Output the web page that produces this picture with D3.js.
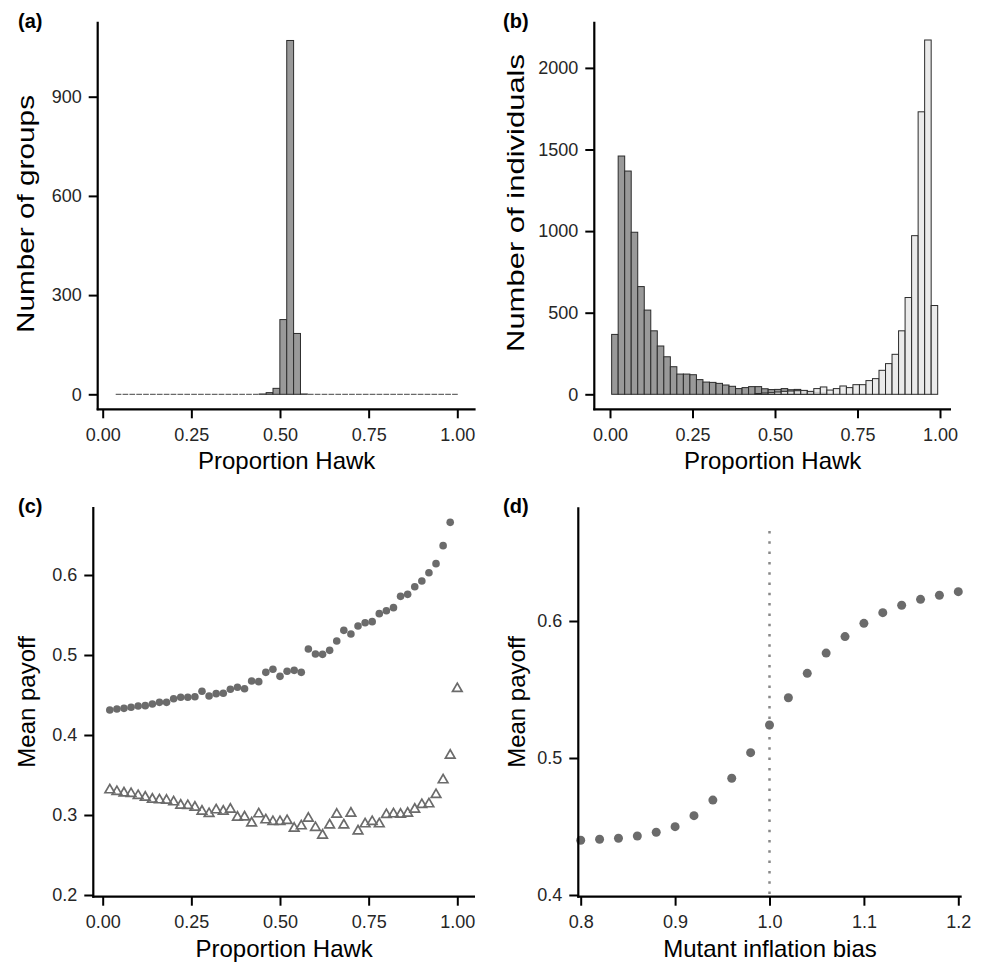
<!DOCTYPE html>
<html>
<head>
<meta charset="utf-8">
<script src="https://cdn.jsdelivr.net/npm/d3@7/dist/d3.min.js"></script>
<style>
  html, body { margin: 0; padding: 0; background: #fff; }
  svg { display: block; font-family: "Liberation Sans", Arial, Helvetica, sans-serif; }
</style>
</head>
<body>
<svg id="chart" width="985" height="966"></svg>
<script>
// ---------------- DATA ----------------
// (a) histogram of group proportion hawk: 50 bins
const groupBinStart = 0.035;
const groupBinWidth = 0.01936;
const groupCounts = [0,0,0,0,0,0,0,0,0,0, 0,0,0,0,0,0,0,0,0,0,
                     0,1,5,18,226,1070,184,1,0,0, 0,0,0,0,0,0,0,0,0,0,
                     0,0,0,0,0,0,0,0,0,0];

// (b) histogram of individuals: 50 bins, two overlapping series
const indivBinStart = 0.005;
const indivBinWidth = 0.01976;
const indivDark = [367,1460,1368,993,660,516,389,296,230,169,
                   124,124,120,90,75,73,67,57,49,35,
                   41,47,47,34,29,30,35,28,30,22,
                   15,12,8,0,0,0,0,0,0,0,
                   0,0,0,0,0,0,0,0,0,0];
const indivLight = [0,0,0,0,0,0,0,0,0,0,
                    0,0,0,0,0,0,0,0,0,0,
                    0,0,5,8,10,14,18,20,22,24,
                    18,35,45,26,35,51,41,59,59,84,
                    96,147,188,245,389,593,972,1731,2171,544];

// (c) mean payoff vs proportion hawk
const circleX = [0.02,0.04,0.06,0.08,0.10,0.12,0.14,0.16,0.18,0.20,
                 0.22,0.24,0.26,0.28,0.30,0.32,0.34,0.36,0.38,0.40,
                 0.42,0.44,0.46,0.48,0.50,0.52,0.54,0.56,0.58,0.60,
                 0.62,0.64,0.66,0.68,0.70,0.72,0.74,0.76,0.78,0.80,
                 0.82,0.84,0.86,0.88,0.90,0.92,0.94,0.96,0.98];
const circleY = [0.4313,0.4325,0.4333,0.4346,0.4363,0.4367,0.4388,0.4408,0.4408,0.4454,
                 0.4471,0.4471,0.4479,0.4546,0.4488,0.4517,0.4521,0.4571,0.4596,0.4579,
                 0.4675,0.4667,0.4783,0.4821,0.4733,0.4796,0.4808,0.4783,0.5075,0.5013,
                 0.5008,0.5058,0.5175,0.5308,0.5263,0.5363,0.5404,0.5417,0.5517,0.5554,
                 0.5592,0.5733,0.5758,0.5854,0.5925,0.6029,0.6142,0.6367,0.6658];
const triX = [0.02,0.04,0.06,0.08,0.10,0.12,0.14,0.16,0.18,0.20,
              0.22,0.24,0.26,0.28,0.30,0.32,0.34,0.36,0.38,0.40,
              0.42,0.44,0.46,0.48,0.50,0.52,0.54,0.56,0.58,0.60,
              0.62,0.64,0.66,0.68,0.70,0.72,0.74,0.76,0.78,0.80,
              0.82,0.84,0.86,0.88,0.90,0.92,0.94,0.96,0.98,1.00];
const triY = [0.3313,0.3292,0.3275,0.3267,0.3242,0.3221,0.3196,0.3188,0.3183,0.3163,
              0.3121,0.3117,0.3096,0.3046,0.3017,0.3063,0.3046,0.3071,0.2971,0.2975,
              0.2900,0.3013,0.2938,0.2917,0.2917,0.2929,0.2833,0.2863,0.2958,0.2842,
              0.2746,0.2875,0.3008,0.2875,0.3021,0.2800,0.2888,0.2917,0.2888,0.3004,
              0.3013,0.3008,0.3021,0.3071,0.3129,0.3138,0.3254,0.3438,0.3746,0.4579];

// (d) mean payoff vs mutant inflation bias
const biasX = [0.80,0.82,0.84,0.86,0.88,0.90,0.92,0.94,0.96,0.98,
               1.00,1.02,1.04,1.06,1.08,1.10,1.12,1.14,1.16,1.18,1.20];
const biasY = [0.4400,0.4407,0.4414,0.4431,0.4458,0.4499,0.4579,0.4693,0.4852,0.5039,
               0.5241,0.5440,0.5618,0.5766,0.5886,0.5983,0.6061,0.6115,0.6158,0.6188,0.6214];
const vlineX = 1.0;
const vlineTop = 0.667;

// tick values / labels
const propTicks = [0, 0.25, 0.5, 0.75, 1.0];
const groupTicks = [0, 300, 600, 900];
const indivTicks = [0, 500, 1000, 1500, 2000];
const payoffTicksC = [0.2, 0.3, 0.4, 0.5, 0.6];
const payoffTicksD = [0.4, 0.5, 0.6];
const biasTicks = [0.8, 0.9, 1.0, 1.1, 1.2];

// ---------------- DRAW ----------------
const svg = d3.select("#chart");
const TICK_FONT = 18, TITLE_FONT = 24;
const darkFill = "#999999", lightFill = "#e6e6e6", barStroke = "#2b2b2b";
const ptColor = "#6b6b6b";

function axes(p) {
  const g = svg.append("g");
  const gx = g.append("g").attr("transform", `translate(0,${p.bottom})`)
    .call(d3.axisBottom(p.x).tickValues(p.xTicks).tickFormat(p.xFmt).tickSize(9).tickPadding(10));
  const gy = g.append("g").attr("transform", `translate(${p.left},0)`)
    .call(d3.axisLeft(p.y).tickValues(p.yTicks).tickFormat(p.yFmt).tickSize(9).tickPadding(7));
  [gx, gy].forEach(a => {
    a.select(".domain").remove();
    a.selectAll(".tick line").attr("stroke", "#000").attr("stroke-width", 2);
    a.selectAll(".tick text").attr("fill", "#262626").style("font-size", TICK_FONT + "px")
      .style("font-family", '"Liberation Sans", Arial, sans-serif');
  });
  g.append("line").attr("x1", p.left).attr("x2", p.left).attr("y1", p.top).attr("y2", p.bottom + 1)
    .attr("stroke", "#000").attr("stroke-width", 2.2);
  g.append("line").attr("x1", p.left - 1).attr("x2", p.right).attr("y1", p.bottom).attr("y2", p.bottom)
    .attr("stroke", "#000").attr("stroke-width", 2.2);
  g.append("text").attr("x", (p.left + p.right) / 2).attr("y", p.bottom + 60)
    .attr("text-anchor", "middle").style("font-size", TITLE_FONT + "px").attr("fill", "#000").text(p.xTitle);
  const yt = g.append("text")
    .attr("transform", `translate(${p.yTitleX},${p.yTitleY !== undefined ? p.yTitleY : (p.top + p.bottom) / 2}) rotate(-90)`)
    .attr("text-anchor", "middle").style("font-size", TITLE_FONT + "px").attr("fill", "#000").text(p.yTitle);
  if (p.yTitleLen) yt.attr("textLength", p.yTitleLen).attr("lengthAdjust", "spacingAndGlyphs");
  svg.append("text").attr("x", p.labelX).attr("y", p.labelY).style("font-size", "20px")
    .style("font-weight", "bold").attr("fill", "#000").text(p.label);
}

// ----- Panel (a)
{
  const x = d3.scaleLinear().domain([0, 1]).range([102.7, 457.3]);
  const y = d3.scaleLinear().domain([0, 900]).range([394.3, 96.7]);
  const bins = groupCounts.map((c, i) => ({ x0: groupBinStart + i * groupBinWidth, x1: groupBinStart + (i + 1) * groupBinWidth, c }));
  const g = svg.append("g");
  g.selectAll("rect").data(bins.filter(d => d.c > 0)).join("rect")
    .attr("x", d => x(d.x0)).attr("width", d => x(d.x1) - x(d.x0))
    .attr("y", d => y(d.c)).attr("height", d => y(0) - y(d.c))
    .attr("fill", darkFill).attr("stroke", barStroke).attr("stroke-width", 1);
  g.selectAll("line.zero").data(bins.filter(d => d.c === 0)).join("line").attr("class", "zero")
    .attr("x1", d => x(d.x0) + 0.6).attr("x2", d => x(d.x1) - 0.6)
    .attr("y1", y(0)).attr("y2", y(0)).attr("stroke", "#444").attr("stroke-width", 1);
  axes({ x, y, left: 97.7, right: 475.6, top: 21.7, bottom: 409.3,
    xTicks: propTicks, yTicks: groupTicks, xFmt: d3.format(".2f"), yFmt: d3.format("d"),
    xTitle: "Proportion Hawk", yTitle: "Number of groups", yTitleLen: 238, yTitleY: 214,
    label: "(a)", labelX: 18, labelY: 28, yTitleX: 34 });
}

// ----- Panel (b)
{
  const x = d3.scaleLinear().domain([0, 1]).range([610, 940]);
  const y = d3.scaleLinear().domain([0, 2000]).range([394.3, 67.9]);
  const mk = arr => arr.map((c, i) => ({ x0: indivBinStart + i * indivBinWidth, x1: indivBinStart + (i + 1) * indivBinWidth, c }));
  const g = svg.append("g");
  g.append("g").selectAll("rect").data(mk(indivDark).filter(d => d.c > 0)).join("rect")
    .attr("x", d => x(d.x0)).attr("width", d => x(d.x1) - x(d.x0))
    .attr("y", d => y(d.c)).attr("height", d => y(0) - y(d.c))
    .attr("fill", darkFill).attr("stroke", barStroke).attr("stroke-width", 1);
  g.append("g").selectAll("rect").data(mk(indivLight).filter(d => d.c > 0)).join("rect")
    .attr("x", d => x(d.x0)).attr("width", d => x(d.x1) - x(d.x0))
    .attr("y", d => y(d.c)).attr("height", d => y(0) - y(d.c))
    .attr("fill", lightFill).attr("fill-opacity", 0.85).attr("stroke", barStroke).attr("stroke-width", 1);
  axes({ x, y, left: 594.3, right: 951, top: 21.7, bottom: 409.3,
    xTicks: propTicks, yTicks: indivTicks, xFmt: d3.format(".2f"), yFmt: d3.format("d"),
    xTitle: "Proportion Hawk", yTitle: "Number of individuals", yTitleLen: 298, yTitleY: 203,
    label: "(b)", labelX: 503, labelY: 28, yTitleX: 524 });
}

// ----- Panel (c)
{
  const x = d3.scaleLinear().domain([0, 1]).range([102.7, 457.3]);
  const y = d3.scaleLinear().domain([0.2, 0.6]).range([895, 575]);
  const g = svg.append("g");
  g.selectAll("circle").data(circleX.map((v, i) => [v, circleY[i]])).join("circle")
    .attr("cx", d => x(d[0])).attr("cy", d => y(d[1])).attr("r", 3.8).attr("fill", ptColor);
  const tri = d3.symbol(d3.symbolTriangle, 40);
  g.selectAll("path.tri").data(triX.map((v, i) => [v, triY[i]])).join("path").attr("class", "tri")
    .attr("d", tri).attr("transform", d => `translate(${x(d[0])},${y(d[1])})`)
    .attr("fill", "none").attr("stroke", ptColor).attr("stroke-width", 1.7);
  axes({ x, y, left: 93.3, right: 475, top: 507, bottom: 896.7,
    xTicks: propTicks, yTicks: payoffTicksC, xFmt: d3.format(".2f"), yFmt: d3.format(".1f"),
    xTitle: "Proportion Hawk", yTitle: "Mean payoff", label: "(c)", labelX: 18, labelY: 513, yTitleX: 35 });
}

// ----- Panel (d)
{
  const x = d3.scaleLinear().domain([0.8, 1.2]).range([580.7, 958.3]);
  const y = d3.scaleLinear().domain([0.4, 0.6]).range([895, 621]);
  const g = svg.append("g");
  g.append("line").attr("x1", x(vlineX)).attr("x2", x(vlineX)).attr("y1", 894).attr("y2", y(vlineTop))
    .attr("stroke", "#888").attr("stroke-width", 2.5).attr("stroke-dasharray", "2.5,7.8");
  g.selectAll("circle").data(biasX.map((v, i) => [v, biasY[i]])).join("circle")
    .attr("cx", d => x(d[0])).attr("cy", d => y(d[1])).attr("r", 4.5).attr("fill", ptColor);
  axes({ x, y, left: 578.3, right: 961.7, top: 507.3, bottom: 896.7,
    xTicks: biasTicks, yTicks: payoffTicksD, xFmt: d3.format(".1f"), yFmt: d3.format(".1f"),
    xTitle: "Mutant inflation bias", yTitle: "Mean payoff", label: "(d)", labelX: 503, labelY: 513, yTitleX: 525 });
}
</script>
</body>
</html>
